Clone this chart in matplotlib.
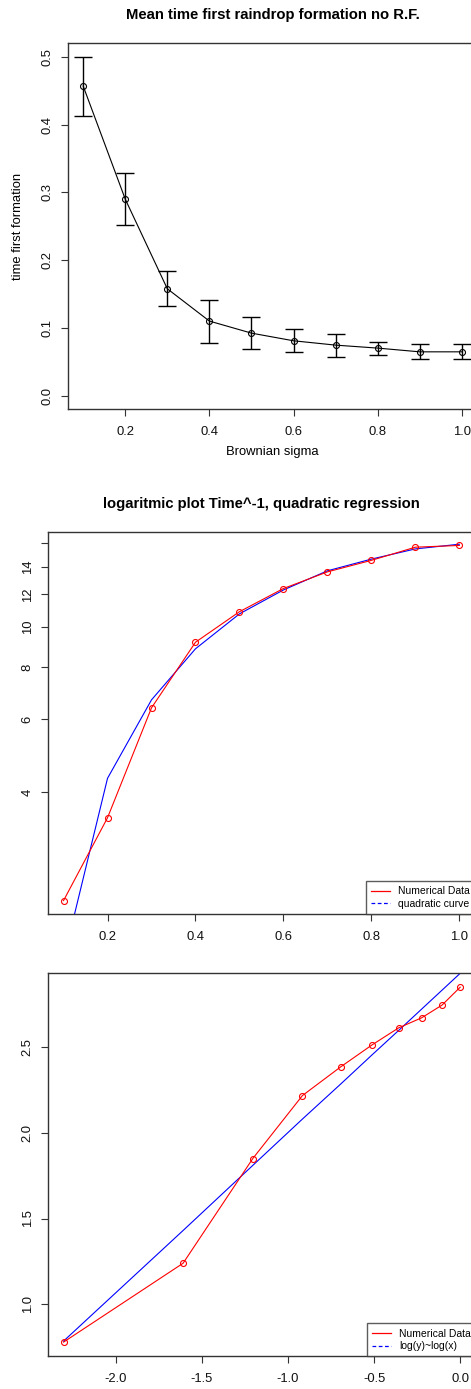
import matplotlib
matplotlib.use("Agg")
import matplotlib.pyplot as plt
from matplotlib.lines import Line2D

plt.rcParams['font.family'] = ['Liberation Sans', 'DejaVu Sans']
plt.rcParams['axes.unicode_minus'] = False

# panel 1: mean time of first raindrop formation, with error bars
sigma = [0.1, 0.2, 0.3, 0.4, 0.5, 0.6, 0.7, 0.8, 0.9, 1.0]
mean_time = [0.457, 0.290, 0.1576, 0.1099, 0.0921, 0.0808, 0.0744, 0.0700, 0.0645, 0.0645]
err_hi = [0.500, 0.3286, 0.1837, 0.1409, 0.1158, 0.0975, 0.0906, 0.0788, 0.0764, 0.0759]
err_lo = [0.4128, 0.2512, 0.1320, 0.0773, 0.0685, 0.0645, 0.0567, 0.0596, 0.0532, 0.0532]

# panel 2: Time^-1 on log axis, with quadratic regression
inv_time = [2.19, 3.47, 6.39, 9.20, 10.9, 12.4, 13.6, 14.5, 15.6, 15.75]
quad_fit = [1.58, 4.32, 6.68, 8.87, 10.77, 12.3, 13.68, 14.6, 15.45, 15.86]

# panel 3: log(y) vs log(x) with linear fit
log_sigma = [-2.303, -1.609, -1.204, -0.916, -0.693, -0.511, -0.357, -0.223, -0.105, 0.0]
log_inv = [0.779, 1.239, 1.850, 2.217, 2.385, 2.513, 2.612, 2.671, 2.745, 2.849]
lin_fit = [0.785, 1.43, 1.81, 2.08, 2.285, 2.455, 2.597, 2.722, 2.832, 2.93]

FRAME = '#333333'
TICK_FS = 9.4


def style(ax):
    for s in ax.spines.values():
        s.set_color(FRAME)
        s.set_linewidth(1.0)
    ax.tick_params(direction='out', length=4.7, width=0.8, color=FRAME,
                   labelsize=TICK_FS, labelcolor='#111111')
    ax.tick_params(axis='x', pad=7.5)
    ax.tick_params(axis='y', pad=5.5)
    for lab in ax.get_yticklabels():
        lab.set_rotation(90)
        lab.set_va('center')


def add_legend(ax, labels):
    handles = [Line2D([], [], color='red', lw=0.9, ls='-'),
               Line2D([], [], color='blue', lw=0.9, ls=(0, (3, 2)))]
    leg = ax.legend(handles, labels, loc='lower right', fontsize=7.5,
                    frameon=True, fancybox=False, borderaxespad=0,
                    handlelength=1.8, handletextpad=0.8, labelspacing=0.25,
                    borderpad=0.5)
    leg.get_frame().set_edgecolor(FRAME)
    leg.get_frame().set_linewidth(1.0)


fig = plt.figure(figsize=(4.71, 13.89), dpi=100)

# ---- panel 1
ax1 = fig.add_axes([0.1444, 0.7055, 0.8684, 0.2633])
yerr = [[m - lo for m, lo in zip(mean_time, err_lo)],
        [hi - m for m, hi in zip(mean_time, err_hi)]]
ax1.errorbar(sigma, mean_time, yerr=yerr, fmt='none', ecolor='black',
             elinewidth=1.0, capsize=6.4, capthick=1.0)
ax1.plot(sigma, mean_time, color='black', lw=0.8, marker='o', ms=4.3,
         mfc='none', mec='black', mew=0.8)
ax1.set_xlim(0.064, 1.036)
ax1.set_ylim(-0.02, 0.52)
ax1.set_xticks([0.2, 0.4, 0.6, 0.8, 1.0])
ax1.set_xticklabels(['0.2', '0.4', '0.6', '0.8', '1.0'])
ax1.set_yticks([0.0, 0.1, 0.2, 0.3, 0.4, 0.5])
ax1.set_yticklabels(['0.0', '0.1', '0.2', '0.3', '0.4', '0.5'])
ax1.set_title('Mean time first raindrop formation no R.F.', fontsize=10.7,
              fontweight='bold', pad=17.5)
ax1.set_xlabel('Brownian sigma', fontsize=9.4)
ax1.set_ylabel('time first formation', fontsize=9.4)
ax1.xaxis.set_label_coords(0.5, -0.102)
ax1.yaxis.set_label_coords(-0.107, 0.5)
style(ax1)

# ---- panel 2
ax2 = fig.add_axes([0.1013, 0.3418, 0.9076, 0.2754])
ax2.set_yscale('log')
ax2.plot(sigma, quad_fit, color='blue', lw=0.8)
ax2.plot(sigma, inv_time, color='red', lw=0.8, marker='o', ms=4.3,
         mfc='none', mec='red', mew=0.8)
ax2.set_xlim(0.064, 1.036)
ax2.set_ylim(2.03, 17.0)
ax2.set_xticks([0.2, 0.4, 0.6, 0.8, 1.0])
ax2.set_xticklabels(['0.2', '0.4', '0.6', '0.8', '1.0'])
ax2.set_yticks([4, 6, 8, 10, 12, 14, 16])
ax2.set_yticklabels(['4', '6', '8', '10', '12', '14', ''])
ax2.minorticks_off()
ax2.set_title('logaritmic plot Time^-1, quadratic regression', fontsize=10.7,
              fontweight='bold', pad=17.2)
add_legend(ax2, ['Numerical Data', 'quadratic curve'])
style(ax2)

# ---- panel 3
ax3 = fig.add_axes([0.1013, 0.0235, 0.9093, 0.2760])
ax3.plot(log_sigma, lin_fit, color='blue', lw=0.8)
ax3.plot(log_sigma, log_inv, color='red', lw=0.8, marker='o', ms=4.3,
         mfc='none', mec='red', mew=0.8)
ax3.set_xlim(-2.395, 0.092)
ax3.set_ylim(0.696, 2.932)
ax3.set_xticks([-2.0, -1.5, -1.0, -0.5, 0.0])
ax3.set_xticklabels(['-2.0', '-1.5', '-1.0', '-0.5', '0.0'])
ax3.set_yticks([1.0, 1.5, 2.0, 2.5])
ax3.set_yticklabels(['1.0', '1.5', '2.0', '2.5'])
add_legend(ax3, ['Numerical Data', 'log(y)~log(x)'])
style(ax3)

fig.savefig('out.png', dpi=100)
